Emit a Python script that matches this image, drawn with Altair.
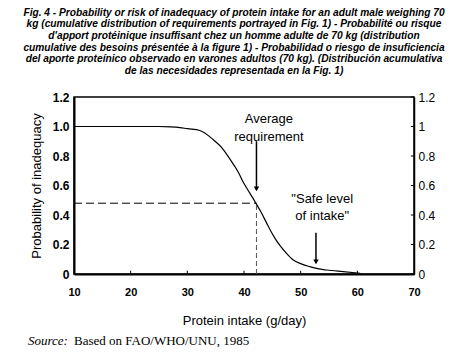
import altair as alt
import pandas as pd

# ---- data ----
intake = [10, 15, 20, 25, 27, 28.7, 30, 32.2, 34.6, 36, 37.5, 39, 39.9, 41, 42.1,
          43, 44, 44.6, 45.5, 46.4, 47.5, 48.7, 50, 51.6, 53, 54.6, 57.5, 60.5]
prob = [1.0, 1.0, 1.0, 1.0, 0.998, 0.993, 0.985, 0.973, 0.91, 0.86, 0.78, 0.69, 0.62,
        0.55, 0.48, 0.42, 0.345, 0.30, 0.24, 0.19, 0.14, 0.095, 0.07, 0.05, 0.036,
        0.027, 0.016, 0.005]

avg_req_x = 42.2
avg_req_p = 0.48
safe_x = 52.7

x_ticks = [10, 20, 30, 40, 50, 60, 70]
y_ticks = [0, 0.2, 0.4, 0.6, 0.8, 1.0, 1.2]

title_lines = [
    "Fig. 4 - Probability or risk of inadequacy of protein intake for an adult male weighing 70",
    "kg (cumulative distribution of requirements portrayed in Fig. 1) - Probabilité ou risque",
    "d'apport protéinique insuffisant chez un homme adulte de 70 kg (distribution",
    "cumulative des besoins présentée à la figure 1) - Probabilidad o riesgo de insuficiencia",
    "del aporte proteínico observado en varones adultos (70 kg). (Distribución acumulativa",
    "de las necesidades representada en la Fig. 1)",
]

# annotations: (text, x, y)
ann_labels = ["Average", "requirement", "\"Safe level", "of intake\""]
ann_x = [44.4, 44.4, 53.8, 53.8]
ann_y = [1.05, 0.93, 0.51, 0.395]

arrow_x = [avg_req_x, safe_x]
arrow_top = [0.90, 0.28]
arrow_tip = [0.57, 0.075]

FONT = "Liberation Sans"
xs = alt.Scale(domain=[10, 70], nice=False, zero=False)
ys = alt.Scale(domain=[0, 1.2], nice=False)

curve_df = pd.DataFrame({"intake": intake, "prob": prob})

curve = alt.Chart(curve_df).mark_line(color="black", strokeWidth=1.2, interpolate="monotone").encode(
    x=alt.X("intake:Q", scale=xs,
            axis=alt.Axis(values=x_ticks, title="Protein intake (g/day)", grid=False,
                          tickSize=0, labelPadding=12, labelFontSize=11, labelFontWeight="bold",
                          labelFont=FONT, labelColor="black", domainColor="black", domainWidth=2,
                          titleFont=FONT, titleFontSize=13, titleFontWeight="normal",
                          titleColor="black", titlePadding=17, labelFlush=False)),
    y=alt.Y("prob:Q", scale=ys,
            axis=alt.Axis(values=y_ticks, title="Probability of inadequacy", grid=False,
                          tickSize=0, labelPadding=5, labelFontSize=12, labelFontWeight="bold",
                          labelFont=FONT, labelColor="black", domainColor="black", domainWidth=2,
                          labelExpr="datum.value == 0 ? '0' : format(datum.value, '.1f')",
                          titleFont=FONT, titleFontSize=13, titleFontWeight="normal",
                          titleColor="black", titlePadding=9, labelFlush=False)),
)

hdash = alt.Chart(pd.DataFrame({"intake": [10], "x2": [avg_req_x], "prob": [avg_req_p]})).mark_rule(
    color="black", strokeWidth=1, strokeDash=[8, 4]).encode(
    x=alt.X("intake:Q", scale=xs), x2="x2:Q", y=alt.Y("prob:Q", scale=ys, axis=None))

vdash = alt.Chart(pd.DataFrame({"intake": [avg_req_x], "prob": [0], "y2": [avg_req_p]})).mark_rule(
    color="#555", strokeWidth=1, strokeDash=[5, 3]).encode(
    x=alt.X("intake:Q", scale=xs), y=alt.Y("prob:Q", scale=ys, axis=None), y2="y2:Q")

arrows_df = pd.DataFrame({"intake": arrow_x, "prob": arrow_top, "y2": arrow_tip})
arrow_shafts = alt.Chart(arrows_df).mark_rule(color="black", strokeWidth=1.5).encode(
    x=alt.X("intake:Q", scale=xs), y=alt.Y("prob:Q", scale=ys, axis=None), y2="y2:Q")

heads_df = pd.DataFrame({"intake": arrow_x, "prob": arrow_tip})
arrow_heads = alt.Chart(heads_df).mark_point(shape="triangle-down", filled=True, color="black",
                                             size=30, opacity=1, yOffset=-1).encode(
    x=alt.X("intake:Q", scale=xs), y=alt.Y("prob:Q", scale=ys, axis=None))

ann_df = pd.DataFrame({"intake": ann_x, "prob": ann_y, "label": ann_labels})
ann = alt.Chart(ann_df).mark_text(font=FONT, fontSize=13, color="black", align="center",
                                  baseline="middle").encode(
    x=alt.X("intake:Q", scale=xs), y=alt.Y("prob:Q", scale=ys, axis=None), text="label:N")

# inward ticks on bottom and right edges
bt_df = pd.DataFrame({"intake": x_ticks[1:-1], "prob": [0] * 5, "y2": [0.022] * 5})
bottom_ticks = alt.Chart(bt_df).mark_rule(color="black", strokeWidth=1).encode(
    x=alt.X("intake:Q", scale=xs), y=alt.Y("prob:Q", scale=ys, axis=None), y2="y2:Q")

rt_df = pd.DataFrame({"intake": [69.45] * 7, "x2": [70] * 7, "prob": y_ticks})
right_ticks = alt.Chart(rt_df).mark_rule(color="black", strokeWidth=1).encode(
    x=alt.X("intake:Q", scale=xs), x2="x2:Q",
    y=alt.Y("prob:Q", scale=ys,
            axis=alt.Axis(orient="right", values=y_ticks, title="", grid=False, format="~g",
                          tickSize=0, labelPadding=4, labelFontSize=12, labelFont=FONT,
                          labelColor="black", domainColor="black", domainWidth=1.5,
                          labelFlush=False)))

src1 = alt.Chart(pd.DataFrame({"t": ["Source:"]})).mark_text(
    font="Liberation Serif", fontStyle="italic", fontSize=13, color="black", align="left",
    baseline="middle").encode(x=alt.value(-46), y=alt.value(244), text="t:N")
src2 = alt.Chart(pd.DataFrame({"t": ["Based on FAO/WHO/UNU, 1985"]})).mark_text(
    font="Liberation Serif", fontSize=13, color="black", align="left",
    baseline="middle").encode(x=alt.value(0), y=alt.value(244), text="t:N")

chart = alt.layer(curve, hdash, vdash, arrow_shafts, arrow_heads, ann, bottom_ticks,
                  right_ticks, src1, src2).resolve_axis(y="independent").properties(
    width=340, height=177,
    autosize=alt.AutoSizeParams(type="none"),
    padding={"left": 66, "top": 89, "right": 52, "bottom": 82},
    title=alt.TitleParams(text=title_lines, font=FONT, fontSize=10.2, fontWeight="bold",
                          fontStyle="italic", color="black", anchor="middle", dx=-10,
                          lineHeight=11.6, offset=15),
).configure_view(stroke="black", strokeWidth=1.5)

chart.save("out.html", embed_options={"renderer": "svg", "actions": False})
